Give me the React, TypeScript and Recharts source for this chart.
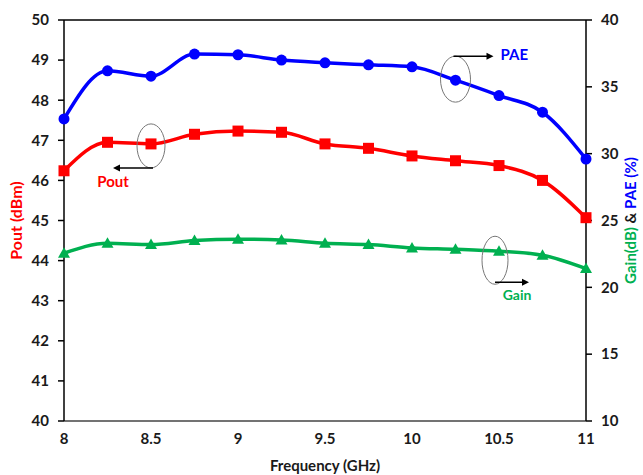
import React from "react";
import {
  ComposedChart,
  Line,
  XAxis,
  YAxis,
  ReferenceLine,
  ReferenceDot,
} from "recharts";

const freq = [8, 8.25, 8.5, 8.75, 9, 9.25, 9.5, 9.75, 10, 10.25, 10.5, 10.75, 11];
const pout = [46.24, 46.95, 46.91, 47.15, 47.23, 47.2, 46.91, 46.8, 46.61, 46.49, 46.37, 46.0, 45.07];
const pae = [32.6, 36.2, 35.8, 37.45, 37.4, 37.0, 36.8, 36.65, 36.5, 35.5, 34.35, 33.1, 29.6];
const gain = [22.55, 23.3, 23.2, 23.5, 23.6, 23.55, 23.3, 23.2, 22.95, 22.85, 22.7, 22.4, 21.4];

const xTicks = [8, 8.5, 9, 9.5, 10, 10.5, 11];
const leftTicks = [40, 41, 42, 43, 44, 45, 46, 47, 48, 49, 50];
const rightTicks = [10, 15, 20, 25, 30, 35, 40];

const data = freq.map((f, i) => ({ f, pout: pout[i], pae: pae[i], gain: gain[i] }));

const RED = "#FF0000";
const BLUE = "#0000FF";
const GREEN = "#00B050";
const FONT = "Lato, 'Open Sans', sans-serif";

const tickStyle = { fontFamily: FONT, fontWeight: 700, fontSize: 15, fill: "#1a1a1a" };

const SquareDot = (p: any) => (
  <rect key={p.index} x={p.cx - 5.5} y={p.cy - 5.5} width={11} height={11} fill={RED} />
);
const CircleDot = (p: any) => <circle key={p.index} cx={p.cx} cy={p.cy} r={5.5} fill={BLUE} />;
const TriDot = (p: any) => (
  <path
    key={p.index}
    d={`M${p.cx},${p.cy - 6} L${p.cx + 6},${p.cy + 4.5} L${p.cx - 6},${p.cy + 4.5} Z`}
    fill={GREEN}
  />
);

const Arrow = ({ x1, x2, y }: { x1: number; x2: number; y: number }) => {
  const dir = x2 > x1 ? 1 : -1;
  return (
    <g>
      <line x1={x1} y1={y} x2={x2 - dir * 5} y2={y} stroke="#000" strokeWidth={1.5} />
      <path d={`M${x2},${y} L${x2 - dir * 7},${y - 3.5} L${x2 - dir * 7},${y + 3.5} Z`} fill="#000" />
    </g>
  );
};

const PoutNote = (p: any) => (
  <g>
    <ellipse cx={p.cx} cy={p.cy + 2} rx={14} ry={22} fill="none" stroke="#777" strokeWidth={1} />
    <Arrow x1={p.cx + 2} x2={p.cx - 38} y={p.cy + 24} />
    <text x={p.cx - 38} y={p.cy + 39} textAnchor="middle" dominantBaseline="middle"
      fontFamily={FONT} fontWeight={700} fontSize={15} fill={RED}>Pout</text>
  </g>
);

const PaeNote = (p: any) => (
  <g>
    <ellipse cx={p.cx} cy={p.cy - 1} rx={15} ry={23} fill="none" stroke="#777" strokeWidth={1} />
    <Arrow x1={p.cx - 2} x2={p.cx + 38} y={p.cy - 24} />
    <text x={p.cx + 45} y={p.cy - 24} dominantBaseline="middle"
      fontFamily={FONT} fontWeight={700} fontSize={15} fill={BLUE}>PAE</text>
  </g>
);

const GainNote = (p: any) => (
  <g>
    <ellipse cx={p.cx - 4} cy={p.cy + 9} rx={13} ry={24} fill="none" stroke="#777" strokeWidth={1} />
    <Arrow x1={p.cx - 4} x2={p.cx + 30} y={p.cy + 31} />
    <text x={p.cx + 18} y={p.cy + 45} textAnchor="middle" dominantBaseline="middle"
      fontFamily={FONT} fontWeight={700} fontSize={14} fill={GREEN}>Gain</text>
  </g>
);

const LeftLabel = (props: any) => {
  const vb = props.viewBox;
  const x = vb.x + 18;
  const y = vb.y + vb.height / 2;
  return (
    <text x={x} y={y} transform={`rotate(-90 ${x} ${y})`} textAnchor="middle" dominantBaseline="middle"
      fontFamily={FONT} fontWeight={700} fontSize={16} fill={RED}>Pout (dBm)</text>
  );
};

const RightLabel = (props: any) => {
  const vb = props.viewBox;
  const x = vb.x + 46;
  const y = vb.y + vb.height / 2;
  return (
    <text x={x} y={y} transform={`rotate(-90 ${x} ${y})`} textAnchor="middle" dominantBaseline="middle"
      fontFamily={FONT} fontWeight={700} fontSize={15}>
      <tspan fill={GREEN}>Gain(dB)</tspan>
      <tspan fill="#1a1a1a"> &amp; </tspan>
      <tspan fill={BLUE}>PAE (%)</tspan>
    </text>
  );
};

export default function App() {
  return (
    <div style={{ position: "absolute", left: 0, top: 0, background: "#fff" }}>
      <ComposedChart width={643} height={475} data={data}
        margin={{ top: 20, right: 0, bottom: 0, left: 0 }}>
        <XAxis dataKey="f" type="number" domain={[8, 11]} ticks={xTicks} tickLine={false}
          tickSize={0} tickMargin={12} height={54} tick={tickStyle}
          axisLine={{ stroke: "#444", strokeWidth: 1.5 }}
          label={{ value: "Frequency (GHz)", position: "insideBottom", offset: 4,
            style: { fontFamily: FONT, fontWeight: 700, fontSize: 15, fill: "#1a1a1a" } }} />
        <YAxis yAxisId="left" domain={[40, 50]} ticks={leftTicks} width={64} tick={tickStyle}
          tickSize={6} tickMargin={9} allowDataOverflow
          axisLine={{ stroke: "#000", strokeWidth: 1.5 }} tickLine={{ stroke: "#000", strokeWidth: 1.5 }}
          label={<LeftLabel />} />
        <YAxis yAxisId="right" orientation="right" domain={[10, 40]} ticks={rightTicks} width={57}
          tick={tickStyle} tickSize={6} tickMargin={9} allowDataOverflow
          axisLine={{ stroke: "#000", strokeWidth: 1.5 }} tickLine={{ stroke: "#000", strokeWidth: 1.5 }}
          label={<RightLabel />} />
        <ReferenceLine yAxisId="left" y={50} stroke="#000" strokeWidth={1.5} />
        <Line yAxisId="right" type="monotone" dataKey="gain" stroke={GREEN} strokeWidth={3.5}
          dot={TriDot} activeDot={false} isAnimationActive={false} />
        <Line yAxisId="left" type="monotone" dataKey="pout" stroke={RED} strokeWidth={3.5}
          dot={SquareDot} activeDot={false} isAnimationActive={false} />
        <Line yAxisId="right" type="monotone" dataKey="pae" stroke={BLUE} strokeWidth={3.5}
          dot={CircleDot} activeDot={false} isAnimationActive={false} />
        <ReferenceDot yAxisId="left" x={freq[2]} y={pout[2]} shape={PoutNote} />
        <ReferenceDot yAxisId="right" x={freq[9]} y={pae[9]} shape={PaeNote} />
        <ReferenceDot yAxisId="right" x={freq[10]} y={gain[10]} shape={GainNote} />
      </ComposedChart>
    </div>
  );
}
